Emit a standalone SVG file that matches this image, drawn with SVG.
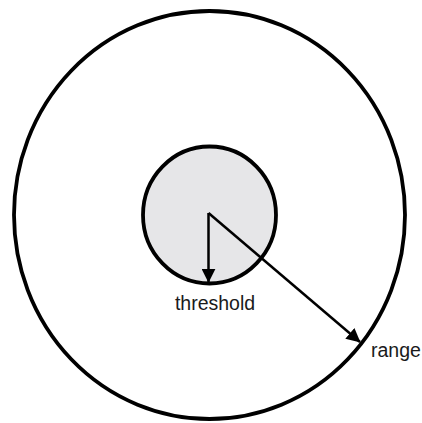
<svg xmlns="http://www.w3.org/2000/svg" width="422" height="423" viewBox="0 0 422 423">
<style>
.ring{fill:none;stroke:#000;stroke-width:3.8}
.inner{fill:#e6e6e8;stroke:#000;stroke-width:3.8}
.conn{stroke:#000;stroke-width:2.5;fill:none}
.lbl{font-family:"Liberation Sans",Arial,sans-serif;font-size:19.5px;fill:#1a1a1a}
</style>
<defs>
<marker id="ah" viewBox="0 0 10 10" refX="9.5" refY="5" markerWidth="5.6" markerHeight="5.6" orient="auto" markerUnits="strokeWidth">
<path d="M0,0 L10,5 L0,10 z" fill="#000"/>
</marker>
</defs>
<rect width="422" height="423" fill="#fff"/>
<g id="range-area"><ellipse class="ring" cx="209.5" cy="215" rx="195.5" ry="204"/></g>
<g id="threshold-area"><ellipse class="inner" cx="209.5" cy="215" rx="66.5" ry="68.5"/></g>
<g id="connectors">
<path class="conn" d="M208.5,213 L208.5,282" marker-end="url(#ah)"/>
<path class="conn" d="M208.5,213 L360,342" marker-end="url(#ah)"/>
</g>
<g id="labels">
<text class="lbl" x="215" y="310" text-anchor="middle">threshold</text>
<text class="lbl" x="371" y="357">range</text>
</g>
</svg>
